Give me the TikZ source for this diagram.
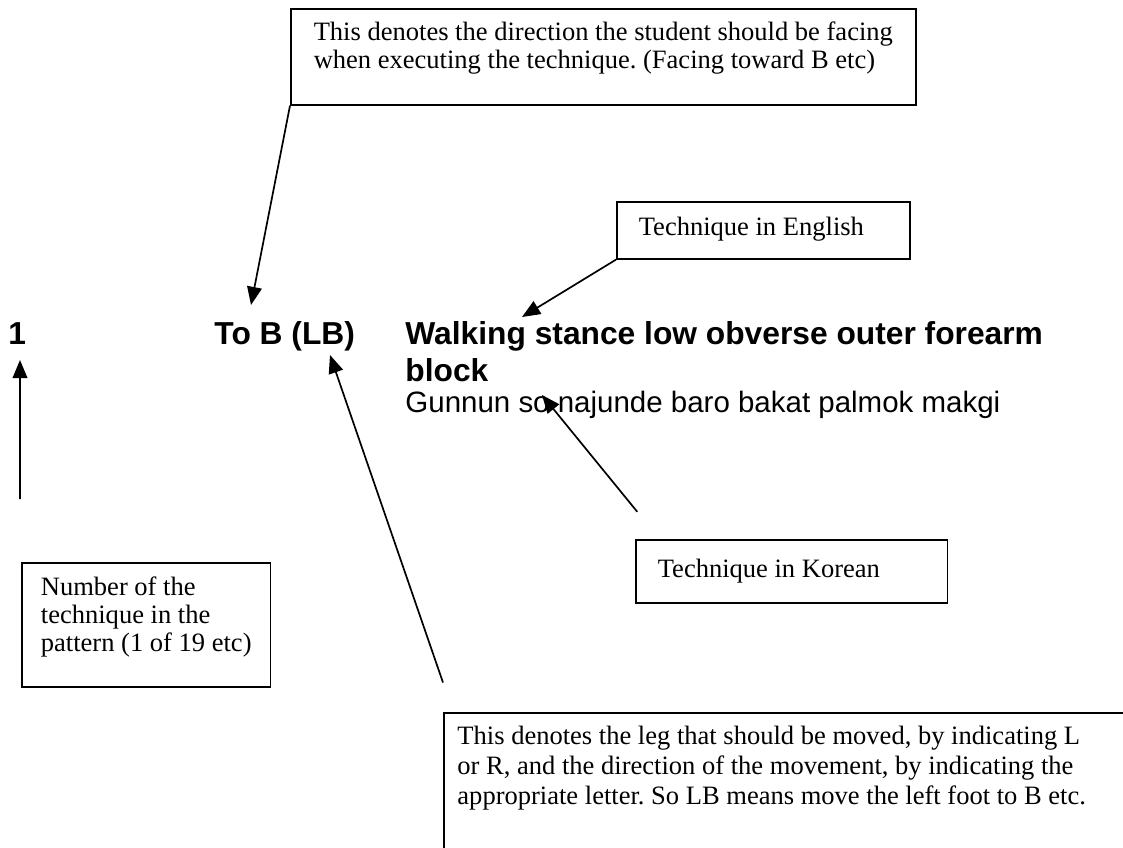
\documentclass[tikz,border=0pt]{standalone}
\usepackage{fontspec}
\setmainfont{Liberation Serif}
\newfontfamily\arialfont{Liberation Sans}
\usetikzlibrary{arrows.meta}
\newcommand{\firstline}{\rule{0pt}{10.5pt}}

\begin{document}
\begin{tikzpicture}[x=0.441pt,y=-0.441pt,
    note/.style={draw,line width=0.75pt,align=flush left,inner xsep=10pt,inner ysep=3.6pt,
      font=\fontsize{11.7}{12.3}\selectfont\frenchspacing},
    head/.style={anchor=base west,inner sep=0pt,font=\arialfont\bfseries\fontsize{14}{16}\selectfont},
    plain/.style={anchor=base west,inner sep=0pt,font=\arialfont\fontsize{13}{15}\selectfont},
    pointer/.style={line width=0.75pt,-{Triangle[length=8pt,width=6.5pt]}}]
  \useasboundingbox (0,0) rectangle (1123,847);
  \fill[white] (0,0) rectangle (1123,847);
  \clip (0,0) rectangle (1123,847);
  % the line of the pattern
  \node[head] (num) at (8,344) {1};
  \node[head] (dir) at (214,344) {To B (LB)};
  \node[head] (eng) at (405,344) {Walking stance low obverse outer forearm};
  \node[head] (eng2) at (405,381) {block};
  \node[plain] (kor) at (405,412) {Gunnun so najunde baro bakat palmok makgi};
  % the notes
  \node[note,anchor=north west,inner xsep=10.1pt] (facebox) at (290,8)
    {\firstline This denotes the direction the student should be facing\hspace{10pt}\\
     when executing the technique. (Facing toward B etc)\\\mbox{}};
  \node[note,anchor=north west,text width=110pt,inner xsep=9.7pt,text height=11.4pt,text depth=6.5pt]
    (engbox) at (616,201) {Technique in English};
  \node[note,anchor=north west,text width=118pt,inner xsep=9.7pt,text height=13.2pt,text depth=7.4pt]
    (korbox) at (635,539) {Technique in Korean};
  \node[note,anchor=south west,inner xsep=8.4pt] (numbox) at (21,688)
    {\firstline Number of the\\technique in the\\pattern (1 of 19 etc)\\\mbox{}};
  \node[note,anchor=north west,inner xsep=6pt,text width=320pt,
    font=\fontsize{11.7}{13.2}\selectfont\frenchspacing] (legbox) at (443,712)
    {\firstline This denotes the leg that should be moved, by indicating L\\
     or R, and the direction of the movement, by indicating the\\
     appropriate letter. So LB means move the left foot to B etc.\\\mbox{}\\\mbox{}};
  % arrow ends
  \coordinate (facetip) at (251,305);
  \coordinate (engtip) at (522,317);
  \coordinate (numtip) at (20,360);
  \coordinate (lbtip) at (330,355);
  \coordinate (kortip) at (542,395);
  \coordinate (numtail) at ([xshift=-0.4pt,yshift=28pt]numbox.north west);
  \coordinate (lbtail) at ([yshift=13pt]legbox.north west);
  \coordinate (kortail) at ([xshift=1pt,yshift=12pt]korbox.north west);
  % arrows
  \draw[pointer] (facebox.south west) -- (facetip);
  \draw[pointer] (engbox.south west) -- (engtip);
  \draw[pointer] (numtail) -- (numtip);
  \draw[pointer] (lbtail) -- (lbtip);
  \draw[pointer] (kortail) -- (kortip);
\end{tikzpicture}
\end{document}
